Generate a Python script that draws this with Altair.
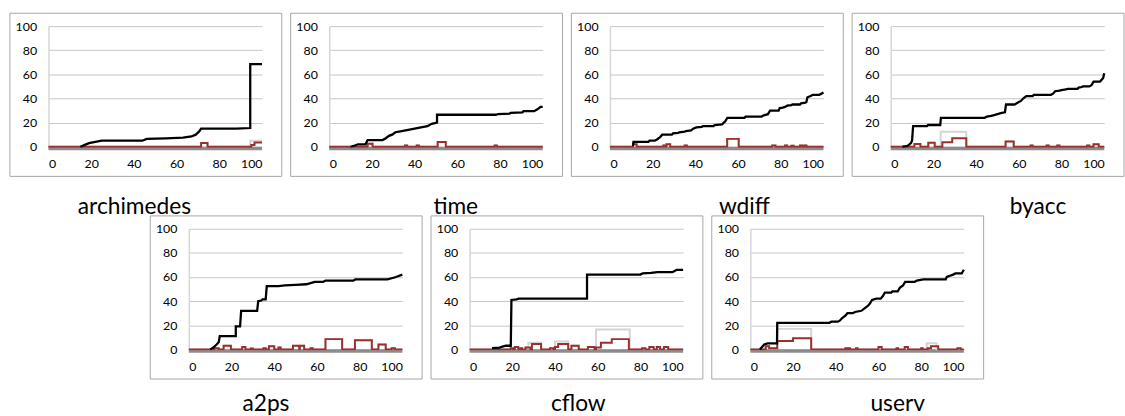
import altair as alt
import pandas as pd

# ---------------- data (x in %, y in %) ----------------
AXIS_TICKS = [0, 20, 40, 60, 80, 100]

archimedes_black = [(15, 0), (17, 1.5), (19, 3), (22, 4), (25, 5), (44, 5), (46, 6.5), (55, 7), (63, 7.5),
                    (67, 8.5), (69, 10), (70.5, 12.5), (71.5, 15), (88, 15), (94.5, 15.5), (94.5, 68.5), (100, 68.5)]
archimedes_red = [(0, 0), (71.5, 3), (74.5, 0), (95, 1.5), (96.5, 3.5), (100, 3.5)]
archimedes_gray = [(0, 0), (71.5, 3), (74.5, 0), (94.5, 5), (100, 5)]

time_black = [(10, 0), (12, 1), (13.5, 2), (17, 2), (18, 5.5), (25, 5.5), (26.5, 7), (28, 9), (29.5, 10), (31, 12),
              (34, 13), (37, 14), (40, 15), (43, 16), (46, 17), (48, 19), (50.5, 20), (50.5, 26.5), (78, 26.5),
              (79, 27), (84.5, 27.5), (85, 28), (90.5, 28.5), (91, 29.5), (96, 29.5), (97.5, 31), (99, 33), (100, 33)]
time_red = [(0, 0), (18, 2.5), (20.3, 0), (35.5, 1), (36.5, 0), (41, 1), (42, 0), (50.8, 4), (54.6, 0),
            (77.5, 1), (78.5, 0), (100, 0)]
time_gray = [(0, 0), (18, 2.5), (20.3, 0), (35.5, 1), (36.5, 0), (41, 1), (42, 0), (50.8, 4), (54.6, 0),
             (77.5, 1), (78.5, 0), (100, 0)]

wdiff_black = [(10.8, 0.5), (11, 4), (18, 4), (18.5, 5), (21, 5), (22, 6), (23.5, 8), (24.5, 10), (29, 10),
               (29.5, 11), (32, 11.5), (32.5, 12), (35, 12.5), (35.5, 13), (38, 13.5), (39, 15), (40.5, 16),
               (43, 16.5), (43.5, 17), (48.5, 17), (49, 18), (52.5, 18.5), (54, 21), (55, 24), (63, 24), (63.5, 25),
               (71, 25), (72, 26), (74, 27), (75, 30), (79, 30), (79.5, 32), (81, 32.5), (82, 33), (83, 34),
               (85, 34.5), (85.5, 35), (89, 35), (89.5, 36), (91.5, 36.5), (92, 37), (92.5, 41), (94, 42), (95, 43),
               (98, 43), (99, 44), (100, 45)]
wdiff_red = [(0, 0), (10.8, 2), (12.5, 0), (25, 1), (26, 0), (26.5, 2), (28.2, 0), (35, 1), (36, 0), (54.9, 6.5),
             (60.3, 0), (76, 1), (77.5, 0), (82, 1), (83, 0), (85, 0.8), (86, 0), (89, 1), (90, 0), (91, 1), (92, 0),
             (100, 0)]
wdiff_gray = [(0, 0), (10.8, 2), (12.5, 0), (25, 1), (26, 0), (26.5, 2), (28.2, 0), (35, 1), (36, 0), (54.9, 6.5),
              (60.3, 0), (76, 1), (77.5, 0), (82, 1), (83, 0), (85, 0.8), (86, 0), (89, 1), (90, 0), (91, 1), (92, 0),
              (100, 0)]

byacc_black = [(5.5, 0), (7.5, 0.5), (8.5, 1.5), (9.5, 3), (10, 5), (10.5, 17), (17, 17), (17.5, 18), (23.2, 18),
               (23.5, 24), (44, 24), (45, 25), (47, 25.5), (48, 26), (50, 27), (52, 28), (53.5, 28.5), (54, 35),
               (58, 35), (59, 36), (60, 37), (61, 38), (62, 40), (63.5, 42), (66.5, 42), (67, 43), (75, 43), (76, 44),
               (77, 46), (79, 46.5), (80, 47), (82, 47.5), (83, 48), (87.5, 48), (88, 49), (89.5, 49.5), (90, 50),
               (93, 50), (94, 51), (95, 54), (98, 54), (98.5, 55), (99.5, 57), (100, 61)]
byacc_red = [(0, 0), (11.1, 2.2), (13.9, 0), (17.6, 3.3), (20.6, 0), (24.2, 3.8), (28.8, 7), (35.4, 0), (53.8, 4.3),
             (57.6, 0), (65.5, 1), (66.5, 0), (73, 1), (74, 0), (78, 1), (79, 0), (92, 1), (93, 0), (95, 2),
             (97.4, 0), (100, 0)]
byacc_gray = [(0, 0), (11.1, 2.2), (13.9, 0), (17.6, 3.3), (20.6, 0), (23.4, 12.5), (35.4, 0), (53.8, 4.3),
              (57.6, 0), (65.5, 1), (66.5, 0), (73, 1), (74, 0), (78, 1), (79, 0), (92, 1), (93, 0), (95, 2),
              (97.4, 0), (100, 0)]

a2ps_black = [(10, 0), (11.5, 1.5), (13, 4), (14, 6), (14.5, 11), (22, 11), (22, 19), (24, 19), (24.5, 32), (32, 32),
              (32.5, 40), (34, 40.5), (34.5, 41.5), (36, 41.5), (36.5, 52.5), (42, 52.5), (45, 53), (50, 53.5),
              (55, 54), (57, 55), (59, 56), (63, 56), (64, 57), (77, 57), (78, 58), (93, 58), (95, 59), (97, 60),
              (100, 62)]
a2ps_red = [(0, 0), (12, 1), (14, 0), (16.3, 3), (19.7, 0), (25, 2), (26.5, 0), (29, 0.7), (30, 0), (35, 1), (36, 0),
            (37.5, 2.5), (40, 0), (42, 1.5), (43, 0), (48.8, 3), (51.7, 0), (52, 3), (54, 0), (57, 1), (58, 0),
            (64, 8.5), (71.8, 0), (77.8, 7.5), (85.7, 0), (88.8, 4), (92.2, 0), (95, 1), (96.5, 0), (100, 0)]
a2ps_gray = [(0, 0), (12, 1), (14, 0), (16.3, 3), (19.7, 0), (25, 2), (26.5, 0), (29, 0.7), (30, 0), (35, 1), (36, 0),
             (37.5, 2.5), (40, 0), (42, 1.5), (43, 0), (48.8, 3), (51.7, 0), (52, 3), (54, 0), (57, 1), (58, 0),
             (64, 8.5), (71.8, 0), (77.8, 7.5), (85.7, 0), (88.8, 4), (92.2, 0), (95, 1), (96.5, 0), (100, 0)]

cflow_black = [(10.5, 1), (14, 1.5), (15, 2), (17, 3), (19.3, 3), (19.6, 41), (22, 41.5), (23, 42), (55, 42),
               (55, 62), (80, 62), (81, 63), (85, 63.5), (88, 64), (95, 64), (96, 65), (97, 66), (100, 66)]
cflow_red = [(0, 0), (19.2, 1), (20.3, 0), (21.2, 2), (22.8, 0), (23.8, 1), (24.6, 0), (26.2, 1.5), (28.5, 0),
             (29.2, 4.5), (33.5, 0), (37.7, 1), (39.2, 0), (40, 2), (41.5, 4.5), (46.2, 0), (47.7, 3), (51.1, 0),
             (55.4, 2), (58.5, 0), (59.2, 1.5), (61.5, 5.5), (66.6, 8.5), (74.6, 0), (80.8, 1), (82.3, 0),
             (84.2, 2), (86.2, 0), (87.7, 2), (89.2, 0), (91, 2), (93, 0), (100, 0)]
cflow_gray = [(0, 0), (19.2, 1), (20.3, 0), (21.2, 2), (22.8, 0), (23.8, 1), (24.6, 0), (26.2, 1.5), (27.5, 5.5),
              (33.5, 0), (37.7, 1), (39.2, 0), (40, 6.5), (46.2, 0), (47.7, 3), (51.1, 0), (55.4, 2), (58.5, 0),
              (59.2, 16.5), (75, 0), (80.8, 1), (82.3, 0), (84.2, 2), (86.2, 0), (87.7, 2), (89.2, 0), (91, 2),
              (93, 0), (100, 0)]

userv_black = [(4.5, 0), (5.5, 2), (6.5, 4), (8, 5), (12.5, 5), (12.6, 22), (37, 22), (38, 23), (41, 23), (42, 24),
               (43, 26), (44.5, 28), (45.5, 30), (48, 30), (49, 31), (52, 32), (53.5, 34), (55, 36), (56, 38),
               (57, 41), (59, 42), (61, 42), (62, 44), (63, 47), (66, 47), (66.5, 48), (69, 48), (70, 51), (71.5, 53),
               (72.5, 56), (77, 56), (78, 57), (81, 58), (91.5, 58), (92, 60), (93.5, 61), (95, 62), (96, 63),
               (99, 63), (100, 66)]
userv_red = [(0, 0), (7.2, 2.5), (8.8, 1), (12.6, 7), (20, 9.3), (28.5, 0), (44.5, 1), (45.2, 0), (46, 1), (46.7, 0),
             (49.5, 1), (50.2, 0), (60, 2), (61.5, 0), (68.5, 1), (69.2, 0), (72.3, 2), (73.8, 0), (80, 1), (80.7, 0),
             (83, 1), (84.6, 2.5), (88, 0), (97, 1), (98.5, 0), (100, 0)]
userv_gray = [(0, 0), (7.2, 2.5), (8.8, 1), (12.6, 17), (28.5, 0), (44.5, 1), (45.2, 0), (46, 1), (46.7, 0),
              (49.5, 1), (50.2, 0), (60, 2), (61.5, 0), (68.5, 1), (69.2, 0), (72.3, 2), (73.8, 0), (80, 1),
              (80.7, 0), (82.6, 5), (87.2, 0), (97, 1), (98.5, 0), (100, 0)]

# panel name, series, title position (x offset from plot left, baseline offset from plot top)
PANELS_TOP = [
    ("archimedes", archimedes_black, archimedes_red, archimedes_gray, 87, 190),
    ("time", time_black, time_red, time_gray, 128, 190),
    ("wdiff", wdiff_black, wdiff_red, wdiff_gray, 136, 190),
    ("byacc", byacc_black, byacc_red, byacc_gray, 149, 190),
]
PANELS_BOTTOM = [
    ("a2ps", a2ps_black, a2ps_red, a2ps_gray, 78, 184),
    ("cflow", cflow_black, cflow_red, cflow_gray, 110, 184),
    ("userv", userv_black, userv_red, userv_gray, 149, 184),
]

W, H = 216, 122
FONT = "Lato"

XS = alt.Scale(domain=[0, 100], nice=False)
YS = alt.Scale(domain=[0, 100], nice=False)
XAXIS = alt.Axis(values=AXIS_TICKS, title=None, grid=False, ticks=False, domain=False, labelOverlap=False,
                 labelFontSize=12.5, labelPadding=11, labelFont=FONT, labelColor="#000000")
YAXIS = alt.Axis(values=AXIS_TICKS, title=None, grid=True, gridColor="#c6c6c6", gridWidth=1, labelOverlap=False,
                 ticks=False, domain=True, domainColor="#d6d6d6", domainWidth=1.5,
                 labelFontSize=12.5, labelPadding=12, labelFont=FONT, labelColor="#000000")


def df(points):
    return pd.DataFrame(points, columns=["x", "y"])


def series(points, color, interp, width):
    return alt.Chart(df(points)).mark_line(interpolate=interp, color=color, strokeWidth=width).encode(
        x=alt.X("x:Q", scale=XS, axis=XAXIS), y=alt.Y("y:Q", scale=YS, axis=YAXIS))


def panel(name, black, red, gray, tx, ty):
    one = pd.DataFrame({"k": [0]})

    frame = alt.Chart(one).mark_rect(filled=False, stroke="#a6a6a6", strokeWidth=1).encode(
        x=alt.value(-39), x2=alt.value(W + 20), y=alt.value(-13), y2=alt.value(H + 30))

    base = alt.Chart(one).mark_rule(color="#8c8c8c", strokeWidth=3.5).encode(
        x=alt.datum(0, scale=XS, axis=XAXIS), x2=alt.datum(100),
        y=alt.datum(-1.4, scale=YS, axis=YAXIS))

    g = series(gray, "#d4d4d4", "step-after", 2)
    r = series(red, "#9b2f2c", "step-after", 2)
    b = series(black, "#000000", "linear", 2.3)

    title = alt.Chart(one).mark_text(fontSize=23, font=FONT, color="#000000", align="center",
                                     baseline="alphabetic").encode(
        x=alt.value(tx), y=alt.value(ty), text=alt.value(name))

    return alt.layer(frame, base, g, r, b, title).properties(width=W, height=H)


top = alt.hconcat(*[panel(*p) for p in PANELS_TOP], spacing=68, bounds="flush")
spacer = alt.Chart(pd.DataFrame({"k": [0]})).mark_point(opacity=0).encode(
    x=alt.value(0), y=alt.value(0)).properties(width=74, height=H)
bottom = alt.hconcat(spacer, *[panel(*p) for p in PANELS_BOTTOM], spacing=68, bounds="flush")

chart = alt.vconcat(top, bottom, spacing=H + 83, bounds="flush").properties(
    padding={"left": 9, "top": 10, "right": 0, "bottom": 0},
    background="white",
).configure_view(strokeWidth=0)

chart.save("out.html", embed_options={"renderer": "svg", "actions": False})
